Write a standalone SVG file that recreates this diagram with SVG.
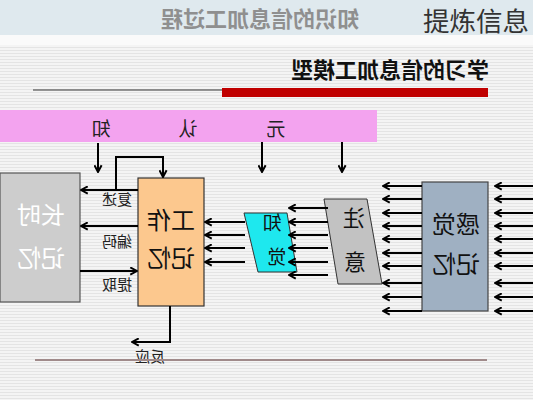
<svg xmlns="http://www.w3.org/2000/svg" width="533" height="400" viewBox="0 0 533 400">
<defs>
<pattern id="stripes" width="4" height="3" patternUnits="userSpaceOnUse">
<rect width="4" height="3" fill="#f4f4f4"/>
<rect y="2" width="4" height="1" fill="#e4e4e4"/>
</pattern>
<marker id="ah" viewBox="0 0 10 10" refX="9" refY="5" markerWidth="9" markerHeight="9" orient="auto" markerUnits="userSpaceOnUse">
<path d="M1.5,1 L9,5 L1.5,9" fill="none" stroke="#000" stroke-width="2.2"/>
</marker>
</defs>
<style>
.t{font-family:"Noto Sans CJK SC","Noto Sans",sans-serif;text-anchor:middle}
.a{stroke:#000;stroke-width:2;fill:none;marker-end:url(#ah)}
.box{stroke:#555;stroke-width:1.2}
</style>
<rect width="533" height="400" fill="url(#stripes)"/>
<rect width="533" height="35" fill="#dfe9ee"/>
<rect y="35" width="533" height="10" fill="#fafafa"/>
<g id="header">
<text class="t" transform="translate(260,27) scale(-1,1)" font-size="22" font-weight="bold" fill="#8f8f8f">知识的信息加工过程</text>
<text x="423" y="31" font-family="Noto Sans CJK SC,sans-serif" font-size="26.5" fill="#333">提炼信息</text>
<text class="t" transform="translate(390,78) scale(-1,1)" font-size="22" font-weight="bold" fill="#111">学习的信息加工模型</text>
<line x1="33" y1="90" x2="222" y2="90" stroke="#333" stroke-width="1"/>
<rect x="222" y="88" width="266" height="9" fill="#c00000"/>
</g>
<g id="metacognition">
<rect x="0" y="110" width="377" height="32" fill="#f3a3ef"/>
<text class="t" transform="translate(101,136) scale(-1,1)" font-size="19" fill="#222">知</text>
<text class="t" transform="translate(188,136) scale(-1,1)" font-size="19" fill="#222">认</text>
<text class="t" transform="translate(276,136) scale(-1,1)" font-size="19" fill="#222">元</text>
</g>
<g id="long-term-memory">
<rect class="box" x="0" y="173" width="80" height="129" fill="#cdcdcd"/>
<text class="t" transform="translate(41,224) scale(-1,1)" font-size="24" fill="#fff">长时</text>
<text class="t" transform="translate(41,267) scale(-1,1)" font-size="24" fill="#fff">记忆</text>
</g>
<g id="working-memory">
<rect x="138" y="178" width="66" height="128" fill="#fcc88e" stroke="#333" stroke-width="1.2"/>
<text class="t" transform="translate(171,229) scale(-1,1)" font-size="24" fill="#111">工作</text>
<text class="t" transform="translate(171,267) scale(-1,1)" font-size="24" fill="#111">记忆</text>
</g>
<g id="perception">
<polygon points="244,213 287,213 297,272 258,272" fill="#1ee8ee" stroke="#333" stroke-width="1"/>
<text class="t" transform="translate(272,230) scale(-1,1)" font-size="19" fill="#111">知</text>
<text class="t" transform="translate(277,264) scale(-1,1)" font-size="19" fill="#111">觉</text>
</g>
<g id="attention">
<polygon points="324,199 367,199 382,284 338,284" fill="#c2c2c2" stroke="#333" stroke-width="1"/>
<text class="t" transform="translate(354,226) scale(-1,1)" font-size="22" fill="#111">注</text>
<text class="t" transform="translate(355,270) scale(-1,1)" font-size="22" fill="#111">意</text>
</g>
<g id="sensory-memory">
<rect x="422" y="182" width="66" height="129" fill="#9fb0c2" stroke="#444" stroke-width="1.2"/>
<text class="t" transform="translate(456,233) scale(-1,1)" font-size="24" fill="#111">感觉</text>
<text class="t" transform="translate(456,273) scale(-1,1)" font-size="24" fill="#111">记忆</text>
</g>
<g id="connectors">
<line class="a" x1="98" y1="143" x2="98" y2="172"/>
<line class="a" x1="262" y1="142" x2="262" y2="172"/>
<line class="a" x1="342" y1="142" x2="342" y2="172"/>
<line class="a" x1="138" y1="190" x2="81" y2="190"/>
<polyline class="a" points="116,190 116,157 163,157 163,177"/>
<line class="a" x1="138" y1="226" x2="81" y2="226"/>
<line class="a" x1="80" y1="271" x2="137" y2="271"/>
<text class="t" transform="translate(117,205) scale(-1,1)" font-size="15" fill="#222">复述</text>
<text class="t" transform="translate(117,247) scale(-1,1)" font-size="15" fill="#222">编码</text>
<text class="t" transform="translate(117,290) scale(-1,1)" font-size="15" fill="#222">提取</text>
<polyline class="a" points="170,306 170,342 132,342"/>
<text class="t" transform="translate(150,362) scale(-1,1)" font-size="15" fill="#222">反应</text>
<line class="a" x1="245" y1="222" x2="205" y2="222"/>
<line class="a" x1="245" y1="235" x2="205" y2="235"/>
<line class="a" x1="245" y1="248" x2="205" y2="248"/>
<line class="a" x1="245" y1="262" x2="205" y2="262"/>
<line class="a" x1="328" y1="208" x2="289" y2="208"/>
<line class="a" x1="328" y1="222" x2="289" y2="222"/>
<line class="a" x1="328" y1="235" x2="289" y2="235"/>
<line class="a" x1="328" y1="248" x2="289" y2="248"/>
<line class="a" x1="328" y1="262" x2="289" y2="262"/>
<line class="a" x1="328" y1="275" x2="289" y2="275"/>
<g id="sensory-out">
<line class="a" x1="422" y1="186" x2="383" y2="186"/>
<line class="a" x1="422" y1="199" x2="383" y2="199"/>
<line class="a" x1="422" y1="213" x2="383" y2="213"/>
<line class="a" x1="422" y1="226" x2="383" y2="226"/>
<line class="a" x1="422" y1="239" x2="383" y2="239"/>
<line class="a" x1="422" y1="253" x2="383" y2="253"/>
<line class="a" x1="422" y1="266" x2="383" y2="266"/>
<line class="a" x1="422" y1="283" x2="383" y2="283"/>
<line class="a" x1="422" y1="297" x2="383" y2="297"/>
<line class="a" x1="422" y1="311" x2="383" y2="311"/>
</g>
<g id="sensory-in">
<line class="a" x1="533" y1="186" x2="495" y2="186"/>
<line class="a" x1="533" y1="199" x2="495" y2="199"/>
<line class="a" x1="533" y1="213" x2="495" y2="213"/>
<line class="a" x1="533" y1="226" x2="495" y2="226"/>
<line class="a" x1="533" y1="239" x2="495" y2="239"/>
<line class="a" x1="533" y1="253" x2="495" y2="253"/>
<line class="a" x1="533" y1="266" x2="495" y2="266"/>
<line class="a" x1="533" y1="283" x2="495" y2="283"/>
<line class="a" x1="533" y1="297" x2="495" y2="297"/>
<line class="a" x1="533" y1="311" x2="495" y2="311"/>
</g>
</g>
<line x1="35" y1="360" x2="487" y2="360" stroke="#a08a8a" stroke-width="2"/>
</svg>
